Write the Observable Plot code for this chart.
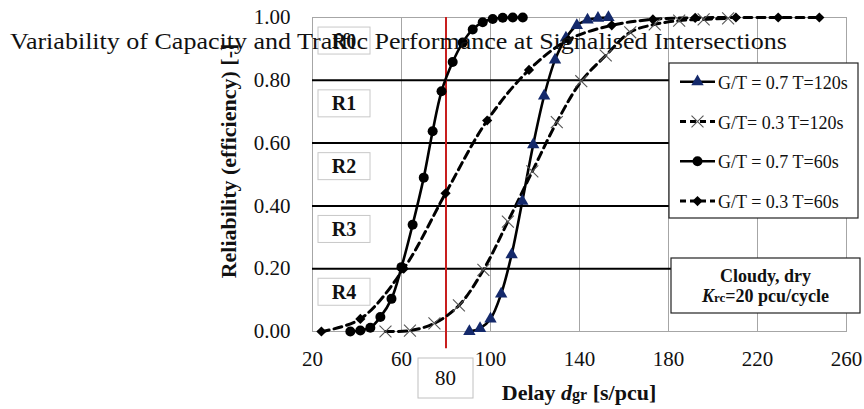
<!DOCTYPE html>
<html><head><meta charset="utf-8">
<script src="https://cdn.jsdelivr.net/npm/d3@7"></script>
<script src="https://cdn.jsdelivr.net/npm/@observablehq/plot@0.6"></script>
<style>body{margin:0;background:#fff} #chart{position:relative;width:864px;height:409px}</style>
</head><body><div id="chart"></div>
<script>
// ---- data ----
const xTicks = [20, 60, 100, 140, 180, 220, 260];
const yTicks = [0, 0.2, 0.4, 0.6, 0.8, 1.0];
const bandBreaks = [0.2, 0.4, 0.6, 0.8];
const bandLabels = ["R0", "R1", "R2", "R3", "R4"];
const markerDelay = 80;
const pageTitle = "Variability of Capacity and Traffic Performance at Signalised Intersections";
const seriesNames = ["G/T = 0.7 T=120s", "G/T= 0.3 T=120s", "G/T = 0.7 T=60s", "G/T = 0.3 T=60s"];

const a_x = [90.5, 95.3, 100, 104.8, 109.5, 114.3, 119.2, 124.1, 129, 133.9, 138.8, 143.6, 148.3, 153];
const a_y = [0, 0.01, 0.04, 0.12, 0.245, 0.415, 0.595, 0.75, 0.865, 0.935, 0.975, 0.992, 0.998, 1.0];
const b_x = [52.8, 63.8, 74.8, 85.8, 96.8, 107.8, 118.8, 129.8, 140.8, 151.8, 162.8, 173.8, 184.8, 195.8, 206.8];
const b_y = [0, 0.003, 0.026, 0.083, 0.196, 0.35, 0.51, 0.667, 0.797, 0.879, 0.953, 0.978, 0.99, 0.994, 0.997];
const c_x = [37, 41.5, 46, 50.5, 55.5, 60, 65, 70, 74, 78, 83, 87.5, 92, 96.5, 101, 105.5, 110, 114.5];
const c_y = [0, 0.003, 0.012, 0.046, 0.104, 0.205, 0.34, 0.49, 0.638, 0.765, 0.858, 0.92, 0.962, 0.985, 0.995, 0.999, 1, 1];
const d_x = [24, 41.5, 61, 79.8, 98.5, 117.3, 135, 154.5, 173, 192, 210.3, 229.3, 247.8];
const d_y = [0, 0.04, 0.2, 0.44, 0.672, 0.833, 0.929, 0.975, 0.994, 0.999, 1, 1, 1];

// ---- styles per series ----
const styles = [
  {xs: a_x, ys: a_y, dash: null, symbol: "triangle", r: 4.6, fill: "#14296b", stroke: "none", sw: 0},
  {xs: b_x, ys: b_y, dash: "8,5", symbol: "times", r: 5.5, fill: "none", stroke: "#555", sw: 1.1},
  {xs: c_x, ys: c_y, dash: null, symbol: "circle", r: 5, fill: "#000", stroke: "none", sw: 0},
  {xs: d_x, ys: d_y, dash: "8,5", symbol: "diamond2", r: 4.6, fill: "#000", stroke: "none", sw: 0}
];
const rows = [];
styles.forEach((s, i) => s.xs.forEach((x, j) => rows.push({s: seriesNames[i], x, y: s.ys[j]})));

const lineMarks = [], dotMarks = [];
styles.forEach((s, i) => {
  const data = rows.filter(d => d.s === seriesNames[i]);
  lineMarks.push(Plot.line(data, {x: "x", y: "y", stroke: "#000", strokeWidth: s.dash ? 3 : 2.6,
    strokeDasharray: s.dash || undefined, curve: "catmull-rom"}));
  dotMarks.push(Plot.dot(data, {x: "x", y: "y", symbol: () => s.symbol, r: s.r, fill: s.fill,
    stroke: s.stroke, strokeWidth: s.sw}));
});

const serif = "'Liberation Serif', 'Times New Roman', serif";
const plot = Plot.plot({
  width: 864, height: 409,
  marginLeft: 312, marginRight: 18, marginTop: 17, marginBottom: 78,
  x: {domain: [20, 260], label: null},
  y: {domain: [0, 1], label: null},
  style: {fontFamily: serif, fontSize: "21px", color: "#111", background: "#fff", overflow: "visible"},
  marks: [
    Plot.gridX(xTicks.slice(1, -1), {stroke: "#a6a6a6", strokeOpacity: 1}),
    Plot.frame({stroke: "#a6a6a6"}),
    Plot.ruleY(bandBreaks, {stroke: "#000", strokeWidth: 2}),
    Plot.ruleX([markerDelay], {y1: 1, y2: -0.055, stroke: "#c81e1e", strokeWidth: 2}),
    ...lineMarks,
    ...dotMarks,
    Plot.axisX(xTicks, {tickSize: 0, tickPadding: 20, label: null, fontFamily: serif, fontSize: 21}),
    Plot.axisY(yTicks, {tickSize: 0, tickPadding: 22, tickFormat: d3.format(".2f"), label: null, fontFamily: serif, fontSize: 21})
  ]
});
document.getElementById("chart").appendChild(plot);

const xs = plot.scale("x"), ys = plot.scale("y");
const svg = d3.select(plot);
const x0 = xs.apply(20), x1 = xs.apply(260);

function txt(sel, x, y, size, anchor) {
  return sel.append("text").attr("x", x).attr("y", y).attr("font-size", size)
    .attr("font-family", serif).attr("fill", "#111").attr("text-anchor", anchor);
}

// band labels R0..R4
bandLabels.forEach((lab, i) => {
  const hi = 1 - 0.2 * i, lo = hi - 0.2;
  const yc = ys.apply((lo + hi) / 2 + 0.025);
  const g = svg.append("g");
  g.append("rect").attr("x", x0 + 6).attr("y", yc - 13.5).attr("width", 52).attr("height", 27)
    .attr("fill", "#fff").attr("stroke", "#c8c8c8");
  txt(g, x0 + 32, yc, 20, "middle").attr("dominant-baseline", "central").attr("font-weight", "bold").text(lab);
});

// legend
const lg = svg.append("g").attr("transform", "translate(669,63)");
lg.append("rect").attr("width", 189).attr("height", 155).attr("fill", "#fff").attr("stroke", "#222").attr("stroke-width", 1.2);
const symMap = {triangle: d3.symbolTriangle, times: d3.symbolTimes, circle: d3.symbolCircle, diamond2: d3.symbolDiamond2};
styles.forEach((s, i) => {
  const cy = 18.7 + i * 39.8;
  lg.append("line").attr("x1", 11).attr("x2", 46).attr("y1", cy).attr("y2", cy)
    .attr("stroke", "#000").attr("stroke-width", s.dash ? 3 : 2.6).attr("stroke-dasharray", s.dash ? "6,4" : null);
  lg.append("path").attr("transform", `translate(28.5,${cy})`)
    .attr("d", d3.symbol(symMap[s.symbol], Math.PI * s.r * s.r)())
    .attr("fill", s.fill).attr("stroke", s.stroke === "none" ? null : s.stroke).attr("stroke-width", s.sw);
  txt(lg, 49, cy + 1, 18, "start").attr("dominant-baseline", "central").text(seriesNames[i]);
});

// conditions box
const cb = svg.append("g").attr("transform", "translate(671,258)");
cb.append("rect").attr("width", 189).attr("height", 55).attr("fill", "#fff").attr("stroke", "#222").attr("stroke-width", 1.2);
txt(cb, 94.5, 24, 18, "middle").attr("font-weight", "bold").text("Cloudy, dry");
const t2 = txt(cb, 94.5, 44, 18, "middle").attr("font-weight", "bold");
t2.append("tspan").attr("font-style", "italic").text("K");
t2.append("tspan").attr("font-size", 13).text("rc");
t2.append("tspan").text("=20 pcu/cycle");

// "80" box under the red line
const cx80 = xs.apply(markerDelay);
svg.append("rect").attr("x", cx80 - 27.5).attr("y", 358).attr("width", 55).attr("height", 40)
  .attr("fill", "#fff").attr("stroke", "#c0c0c0");
txt(svg, cx80, 378, 21, "middle").attr("dominant-baseline", "central").text(String(markerDelay));

// axis titles
const xt = txt(svg, (x0 + x1) / 2, 400, 22, "middle").attr("font-weight", "bold");
xt.append("tspan").text("Delay ");
xt.append("tspan").attr("font-style", "italic").text("d");
xt.append("tspan").attr("font-size", 16).text("gr");
xt.append("tspan").text(" [s/pcu]");

txt(svg, 0, 0, 22, "middle").attr("transform", "translate(228,161) rotate(-90)")
  .attr("dominant-baseline", "central").attr("font-weight", "bold").text("Reliability (efficiency) [-]");

// running page header overlaid on the figure
txt(svg, 10, 49, 24, "start").attr("textLength", 777).attr("lengthAdjust", "spacingAndGlyphs").text(pageTitle);
</script>
</body></html>
